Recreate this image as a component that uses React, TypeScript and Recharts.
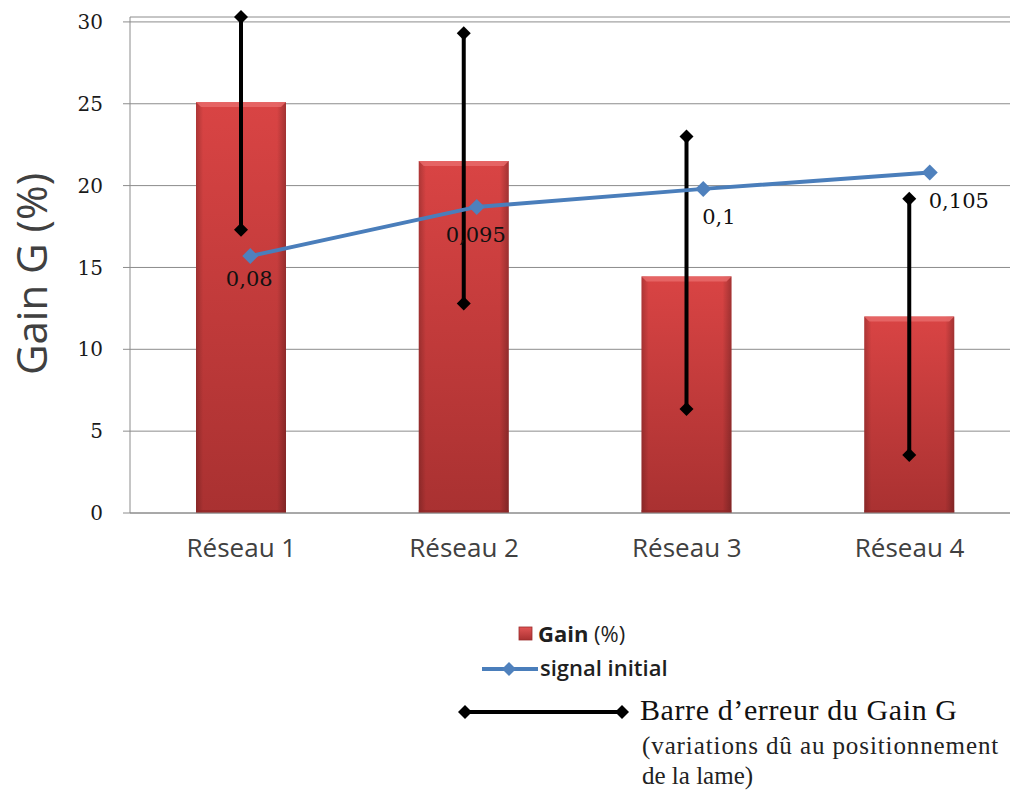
import React from 'react';
import { ComposedChart, Bar, Line, XAxis, YAxis, CartesianGrid, Legend, LabelList } from 'recharts';

const categories = ['Réseau 1', 'Réseau 2', 'Réseau 3', 'Réseau 4'];
const gainValues = [25.1, 21.5, 14.45, 12.0];
const signalValues = [15.7, 18.7, 19.8, 20.8];
const signalLabels = ['0,08', '0,095', '0,1', '0,105'];
const errorLow = [17.3, 12.8, 6.35, 3.55];
const errorHigh = [30.3, 29.3, 23.0, 19.2];
const yTicks = [0, 5, 10, 15, 20, 25, 30];

const data = categories.map((name, i) => ({
  name,
  gain: gainValues[i],
  signal: signalValues[i],
  label: signalLabels[i],
  errRange: [errorLow[i], errorHigh[i]],
}));

const diamond = (cx: number, cy: number, d: number) =>
  `${cx},${cy - d} ${cx + d},${cy} ${cx},${cy + d} ${cx - d},${cy}`;

const BevelBar = (props: any) => {
  const { x, y, width, height, index } = props;
  if (!height || height <= 0) return null;
  const b = 5;
  const id = `barg-${index}`;
  return (
    <g>
      <defs>
        <linearGradient id={`${id}v`} x1="0" y1="0" x2="0" y2="1">
          <stop offset="0%" stopColor="#D94444" />
          <stop offset="100%" stopColor="#A93131" />
        </linearGradient>
        <linearGradient id={`${id}h`} x1="0" y1="0" x2="1" y2="0">
          <stop offset="0%" stopColor="#000" stopOpacity={0.2} />
          <stop offset="8%" stopColor="#000" stopOpacity={0} />
          <stop offset="90%" stopColor="#000" stopOpacity={0} />
          <stop offset="100%" stopColor="#000" stopOpacity={0.25} />
        </linearGradient>
      </defs>
      <rect x={x} y={y} width={width} height={height} fill={`url(#${id}v)`} />
      <rect x={x} y={y} width={width} height={height} fill={`url(#${id}h)`} />
      <polygon
        points={`${x},${y} ${x + width},${y} ${x + width - b},${y + b} ${x + b},${y + b}`}
        fill="#E86A6A"
        opacity={0.85}
      />
      <rect x={x} y={y + height - 3} width={width} height={3} fill="#8E2626" opacity={0.6} />
    </g>
  );
};

const ErrorShape = (props: any) => {
  const { x, y, width, height } = props;
  if (x == null || y == null) return null;
  const cx = x + width / 2;
  const top = Math.min(y, y + height);
  const bottom = Math.max(y, y + height);
  return (
    <g>
      <line x1={cx} y1={top} x2={cx} y2={bottom} stroke="#000" strokeWidth={4} />
      <polygon points={diamond(cx, top, 7)} fill="#000" />
      <polygon points={diamond(cx, bottom, 7)} fill="#000" />
    </g>
  );
};

const SignalDot = (props: any) => {
  const { cx, cy } = props;
  if (cx == null || cy == null) return null;
  return <polygon points={diamond(cx, cy, 8)} fill="#4F81BD" />;
};

const renderSignalLabel = (p: any) => {
  const { x, y, value, index } = p;
  const start = index >= 2;
  const dy = index === 0 ? 23 : 28;
  return (
    <text
      x={x - 1}
      y={y + dy}
      textAnchor={start ? 'start' : 'middle'}
      dominantBaseline="central"
      fontFamily="DejaVu Serif"
      fontSize={21}
      fill="#111"
    >
      {value}
    </text>
  );
};

const renderYLabel = (p: any) => {
  const vb = p.viewBox || { x: 0, y: 17, width: 130, height: 496 };
  const lx = vb.x + 47;
  const ly = vb.y + vb.height / 2 + 9;
  return (
    <text
      x={lx}
      y={ly}
      transform={`rotate(-90, ${lx}, ${ly})`}
      textAnchor="middle"
      fontFamily="Open Sans"
      fontSize={42}
      fill="#404040"
    >
      Gain G (%)
    </text>
  );
};

const renderLegend = () => (
  <svg width={1010} height={191} style={{ display: 'block' }}>
    <defs>
      <linearGradient id="legSq" x1="0" y1="0" x2="0" y2="1">
        <stop offset="0%" stopColor="#E25555" />
        <stop offset="100%" stopColor="#A93131" />
      </linearGradient>
    </defs>
    <g transform="translate(0,-600)">
      <rect x={519} y={627} width={13} height={13} fill="url(#legSq)" stroke="#9B2C2C" strokeWidth={0.8} />
      <text x={538} y={642} fontFamily="Open Sans" fontSize={22} fill="#1f1f1f">
        <tspan fontWeight={700}>Gain</tspan>
        <tspan fontWeight={400}> (%)</tspan>
      </text>
      <line x1={482} y1={669} x2={538} y2={669} stroke="#4A7EBB" strokeWidth={4} />
      <polygon points={diamond(509, 669, 7)} fill="#4F81BD" />
      <text x={540} y={676} fontFamily="Open Sans" fontWeight={600} fontSize={22} fill="#1f1f1f">
        signal initial
      </text>
      <line x1={465} y1={712} x2={622} y2={712} stroke="#000" strokeWidth={4} />
      <polygon points={diamond(465, 712, 7)} fill="#000" />
      <polygon points={diamond(622, 712, 7)} fill="#000" />
      <text x={640} y={720} fontFamily="Liberation Serif" fontSize={30} letterSpacing={0.6} fill="#111">
        Barre d’erreur du Gain G
      </text>
      <text x={642} y={754} fontFamily="Liberation Serif" fontSize={25} letterSpacing={0.9} fill="#222">
        (variations dû au positionnement
      </text>
      <text x={642} y={784} fontFamily="Liberation Serif" fontSize={25} fill="#222">
        de la lame)
      </text>
    </g>
  </svg>
);

export default function App() {
  return (
    <div
      style={{
        position: 'absolute',
        left: 0,
        top: 0,
        width: 1010,
        height: 791,
        overflow: 'hidden',
        background: '#fff',
      }}
    >
      <ComposedChart
        width={1030}
        height={791}
        data={data}
        margin={{ top: 17, right: 9, bottom: 238, left: 0 }}
      >
        <CartesianGrid vertical={false} stroke="#8C8C8C" xAxisId="main" />
        <XAxis
          xAxisId="main"
          dataKey="name"
          height={40}
          axisLine={{ stroke: '#8C8C8C' }}
          tickLine={false}
          tickMargin={20}
          tick={{ fontFamily: 'Open Sans', fontSize: 26, fill: '#404040' }}
        />
        <XAxis xAxisId="err" dataKey="name" hide height={0} />
        <XAxis xAxisId="line" dataKey="name" hide height={0} padding={{ left: 7, right: -22 }} />
        <YAxis
          width={130}
          domain={[0, 30]}
          ticks={yTicks}
          axisLine={{ stroke: '#8C8C8C' }}
          tickLine={{ stroke: '#8C8C8C' }}
          tickSize={7}
          tickMargin={20}
          tick={{ fontFamily: 'DejaVu Serif', fontSize: 20, fill: '#1a1a1a' }}
          label={{ value: 'Gain G (%)', content: renderYLabel }}
        />
        <Bar
          xAxisId="main"
          dataKey="gain"
          barSize={90}
          fill="#C0392B"
          shape={<BevelBar />}
          isAnimationActive={false}
        />
        <Line
          xAxisId="line"
          dataKey="signal"
          stroke="#4A7EBB"
          strokeWidth={4}
          dot={<SignalDot />}
          activeDot={false}
          isAnimationActive={false}
        >
          <LabelList dataKey="label" content={renderSignalLabel} />
        </Line>
        <Bar
          xAxisId="err"
          dataKey="errRange"
          barSize={16}
          fill="#000"
          shape={<ErrorShape />}
          isAnimationActive={false}
        />
        <Legend
          layout="horizontal"
          verticalAlign="middle"
          align="center"
          content={renderLegend}
          wrapperStyle={{ position: 'absolute', left: 0, top: 600, width: 1010, height: 191 }}
        />
      </ComposedChart>
    </div>
  );
}
